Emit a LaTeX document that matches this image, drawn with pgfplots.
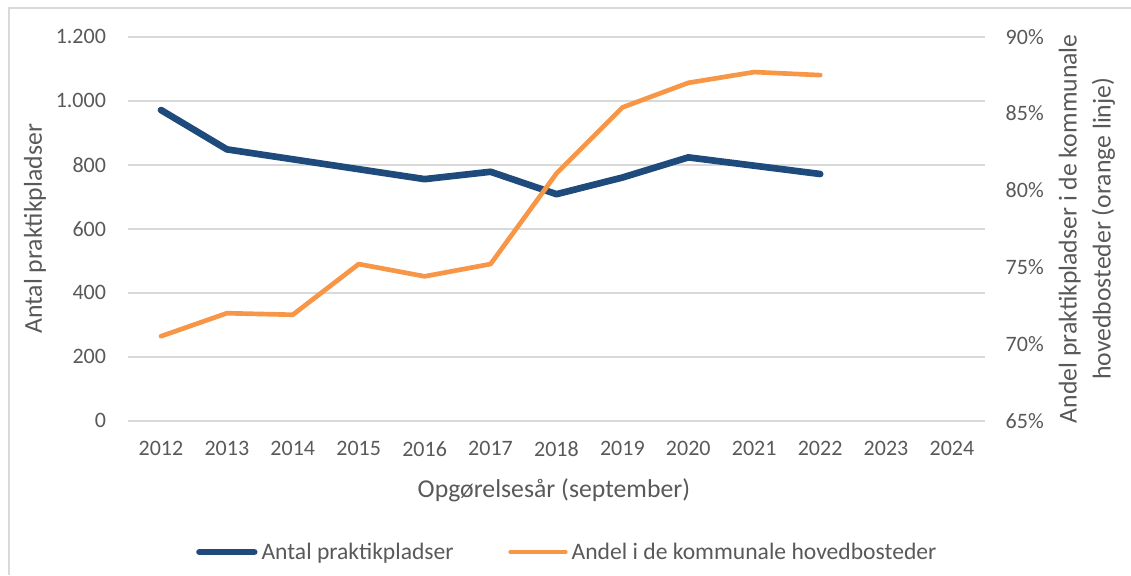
\documentclass[border=0pt]{standalone}
\usepackage{pgfplots}
\pgfplotsset{compat=1.18}
\usepackage{fontspec}
\setmainfont{Carlito}
\definecolor{bl}{HTML}{1F4A7C}
\definecolor{or}{HTML}{F79646}
\definecolor{gr}{HTML}{D9D9D9}
\definecolor{tx}{HTML}{595959}
\begin{document}
\begin{tikzpicture}
\useasboundingbox (0,0) rectangle (848.25pt,431.25pt);
\draw[gr, line width=1pt] (6.75pt,0) -- (6.75pt,425.25pt) -- (848.25pt,425.25pt);
\begin{axis}[
  at={(96pt,115.7pt)}, anchor=south west,
  scale only axis, width=642.75pt, height=288pt,
  xmin=2011.5, xmax=2024.5, ymin=0, ymax=1200,
  xtick={2012,...,2024},
  xticklabels={2012,2013,2014,2015,2016,2017,2018,2019,2020,2021,2022,2023,2024},
  ytick={0,200,...,1200},
  /pgf/number format/assume math mode=true,
  /pgf/number format/1000 sep={.},
  axis line style={draw=none},
  major tick length=0pt,
  ymajorgrids, grid style={gr, line width=1.2pt},
  tick label style={font=\fontsize{16.5}{19}\selectfont, text=tx},
  yticklabel style={xshift=-13pt},
  xticklabel style={yshift=-12pt},
  ylabel={Antal praktikpladser},
  xlabel={Opgørelsesår (september)},
  label style={font=\fontsize{19.3}{22}\selectfont, text=tx},
  ylabel style={at={(rel axis cs:-0.1085,0.5)}, anchor=center},
  xlabel style={at={(rel axis cs:0.497,-0.180)}, anchor=center},
  clip=false,
]
\addplot[bl, line width=5pt, line cap=round, line join=round] coordinates {
(2012,971) (2013,848) (2014,817) (2015,786) (2016,755) (2017,778) (2018,708) (2019,760) (2020,823) (2021,797) (2022,771)};
\end{axis}
\begin{axis}[
  at={(96pt,115.7pt)}, anchor=south west,
  scale only axis, width=642.75pt, height=288pt,
  xmin=2011.5, xmax=2024.5, ymin=65, ymax=90,
  axis y line*=right, axis x line=none,
  axis line style={draw=none},
  ytick={65,70,...,90},
  yticklabel={\pgfmathprintnumber{\tick}\%},
  /pgf/number format/assume math mode=true,
  major tick length=0pt,
  tick label style={font=\fontsize{16.5}{19}\selectfont, text=tx},
  yticklabel style={xshift=12pt},
  ylabel={Andel praktikpladser i de kommunale\\hovedbosteder (orange linje)},
  label style={font=\fontsize{19.3}{25.5}\selectfont, text=tx},
  ylabel style={at={(rel axis cs:1.119,0.5)}, anchor=center, align=center},
  clip=false,
  legend columns=2,
  legend style={draw=none, fill=none, at={(rel axis cs:0.513,-0.342)}, anchor=center,
    font=\fontsize{17.7}{20}\selectfont, text=tx,
    inner xsep=0pt,
    /tikz/every odd column/.append style={column sep=1pt},
    /tikz/every even column/.append style={column sep=39pt}},
  legend cell align=left,
  legend image code/.code={\draw[#1, line cap=round] (0pt,0pt) -- (41pt,0pt);},
]
\addlegendimage{bl, line width=5pt}
\addlegendentry{Antal praktikpladser}
\addplot[or, line width=3.5pt, line cap=round, line join=round] coordinates {
(2012,70.5) (2013,72.0) (2014,71.9) (2015,75.2) (2016,74.4) (2017,75.2) (2018,81.1) (2019,85.4) (2020,87.0) (2021,87.7) (2022,87.5)};
\addlegendentry{Andel i de kommunale hovedbosteder}
\end{axis}
\end{tikzpicture}
\end{document}
